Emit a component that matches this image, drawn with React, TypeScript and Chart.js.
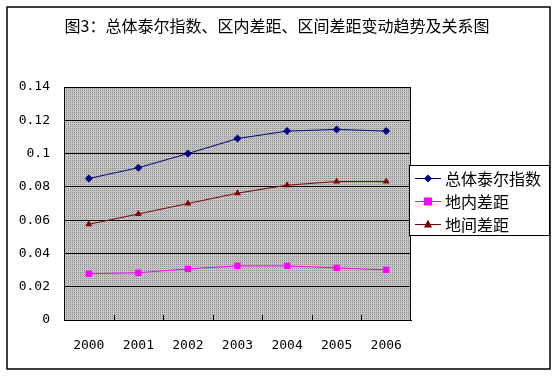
import React, { useEffect, useRef } from "react";
import { Chart, registerables } from "chart.js";

Chart.register(...registerables);

const titleText = "图3：总体泰尔指数、区内差距、区间差距变动趋势及关系图";
const years = ["2000", "2001", "2002", "2003", "2004", "2005", "2006"];
const totalTheil = [0.085, 0.0915, 0.1, 0.109, 0.1135, 0.1145, 0.1135];
const withinGap = [0.0278, 0.0284, 0.0307, 0.0325, 0.0325, 0.0313, 0.0301];
const betweenGap = [0.0575, 0.0637, 0.07, 0.0762, 0.081, 0.0832, 0.0832];
const yTicks = [0, 0.02, 0.04, 0.06, 0.08, 0.1, 0.12, 0.14];

const seriesNames = ["总体泰尔指数", "地内差距", "地间差距"];
const seriesColors = ["#000080", "#ff00ff", "#800000"];
const seriesMarkers = ["rectRot", "rect", "triangle"];

const FONT = '"Noto Sans CJK SC", "Noto Sans", sans-serif';
const NUMFONT = '"DejaVu Sans Mono", monospace';

function makePattern(ctx: CanvasRenderingContext2D) {
  const c = document.createElement("canvas");
  c.width = 2;
  c.height = 2;
  const p = c.getContext("2d")!;
  p.fillStyle = "#c6c6c6";
  p.fillRect(0, 0, 2, 2);
  p.fillStyle = "#8c8c8c";
  p.fillRect(0, 0, 1, 1);
  return ctx.createPattern(c, "repeat");
}

const decorPlugin = {
  id: "decor",
  beforeDraw(chart: any) {
    const { ctx, chartArea } = chart;
    ctx.save();
    ctx.fillStyle = "#ffffff";
    ctx.fillRect(0, 0, chart.width, chart.height);
    const pat = makePattern(ctx);
    ctx.fillStyle = pat || "#c0c0c0";
    ctx.fillRect(chartArea.left, chartArea.top, chartArea.right - chartArea.left, chartArea.bottom - chartArea.top);
    ctx.restore();
  },
  afterDatasetsDraw(chart: any) {
    const { ctx, chartArea } = chart;
    ctx.save();
    ctx.strokeStyle = "#000";
    ctx.lineWidth = 1;
    ctx.strokeRect(Math.round(chartArea.left) + 0.5, Math.round(chartArea.top) + 0.5,
      Math.round(chartArea.right - chartArea.left) - 1, Math.round(chartArea.bottom - chartArea.top));
    const w = (chartArea.right - chartArea.left) / years.length;
    for (let i = 1; i < years.length; i++) {
      const x = Math.round(chartArea.left + i * w) + 0.5;
      ctx.beginPath();
      ctx.moveTo(x, chartArea.bottom);
      ctx.lineTo(x, chartArea.bottom - 5);
      ctx.stroke();
    }
    ctx.restore();
  },
  afterDraw(chart: any) {
    const { ctx } = chart;
    ctx.save();
    ctx.strokeStyle = "#000";
    ctx.lineWidth = 1.5;
    ctx.strokeRect(7, 7, 543, 362);
    ctx.fillStyle = "#000";
    ctx.font = `16px ${FONT}`;
    ctx.textAlign = "center";
    ctx.textBaseline = "middle";
    ctx.fillText(titleText, 277, 26);
    const bx = 409.5, by = 165.5, bw = 140, bh = 70;
    ctx.fillStyle = "#fff";
    ctx.fillRect(bx, by, bw, bh);
    ctx.lineWidth = 1;
    ctx.strokeStyle = "#000";
    ctx.strokeRect(bx, by, bw, bh);
    const rows = [178, 201, 224];
    for (let i = 0; i < 3; i++) {
      const y = rows[i];
      ctx.strokeStyle = seriesColors[i];
      ctx.lineWidth = 1;
      ctx.beginPath();
      ctx.moveTo(415, y + 0.5);
      ctx.lineTo(441, y + 0.5);
      ctx.stroke();
      ctx.fillStyle = seriesColors[i];
      const cx = 428, cy = y + 0.5;
      ctx.beginPath();
      if (i === 0) {
        ctx.moveTo(cx, cy - 4); ctx.lineTo(cx + 4, cy); ctx.lineTo(cx, cy + 4); ctx.lineTo(cx - 4, cy); ctx.closePath();
      } else if (i === 1) {
        ctx.rect(cx - 4, cy - 4, 8, 8);
      } else {
        ctx.moveTo(cx, cy - 5); ctx.lineTo(cx + 4, cy + 3); ctx.lineTo(cx - 4, cy + 3); ctx.closePath();
      }
      ctx.fill();
      ctx.fillStyle = "#000";
      ctx.font = `16px ${FONT}`;
      ctx.textAlign = "left";
      ctx.textBaseline = "middle";
      ctx.fillText(seriesNames[i], 445, y + 1);
    }
    ctx.restore();
  },
};

export default function App() {
  const ref = useRef<HTMLCanvasElement | null>(null);
  useEffect(() => {
    if (!ref.current) return;
    const data = [totalTheil, withinGap, betweenGap];
    const chart = new Chart(ref.current, {
      type: "line",
      data: {
        labels: years,
        datasets: data.map((d, i) => ({
          label: seriesNames[i],
          data: d,
          borderColor: seriesColors[i],
          backgroundColor: seriesColors[i],
          borderWidth: 1,
          pointStyle: seriesMarkers[i] as any,
          pointRadius: i === 1 ? 4.5 : 4,
          pointBorderWidth: 0,
          pointBackgroundColor: seriesColors[i],
          tension: 0,
        })),
      },
      options: {
        responsive: false,
        animation: false,
        devicePixelRatio: 1,
        layout: { padding: { left: 0, right: 147, top: 87, bottom: 0 } },
        plugins: {
          legend: { display: false },
          title: { display: false },
          tooltip: { enabled: false },
        },
        scales: {
          x: {
            offset: true,
            grid: { display: false, drawTicks: false },
            border: { display: true, color: "#000", width: 1 },
            ticks: { color: "#000", font: { family: NUMFONT, size: 13 }, padding: 18, maxRotation: 0 },
            afterFit: (s: any) => { s.height = 56; },
          },
          y: {
            min: 0,
            max: 0.14,
            afterBuildTicks: (s: any) => { s.ticks = yTicks.map((v) => ({ value: v })); },
            grid: { color: "#000", lineWidth: 1, drawTicks: false },
            border: { display: true, color: "#000", width: 1 },
            ticks: {
              color: "#000",
              font: { family: NUMFONT, size: 13 },
              padding: 14,
              callback: (v: any) => String(Math.round(Number(v) * 100) / 100),
            },
            afterFit: (s: any) => { s.width = 64; },
          },
        },
      },
      plugins: [decorPlugin],
    });
    return () => chart.destroy();
  }, []);
  return (
    <div style={{ position: "absolute", left: 0, top: 0, width: 558, height: 376 }}>
      <canvas ref={ref} width={558} height={376} style={{ display: "block", width: 558, height: 376 }} />
    </div>
  );
}
